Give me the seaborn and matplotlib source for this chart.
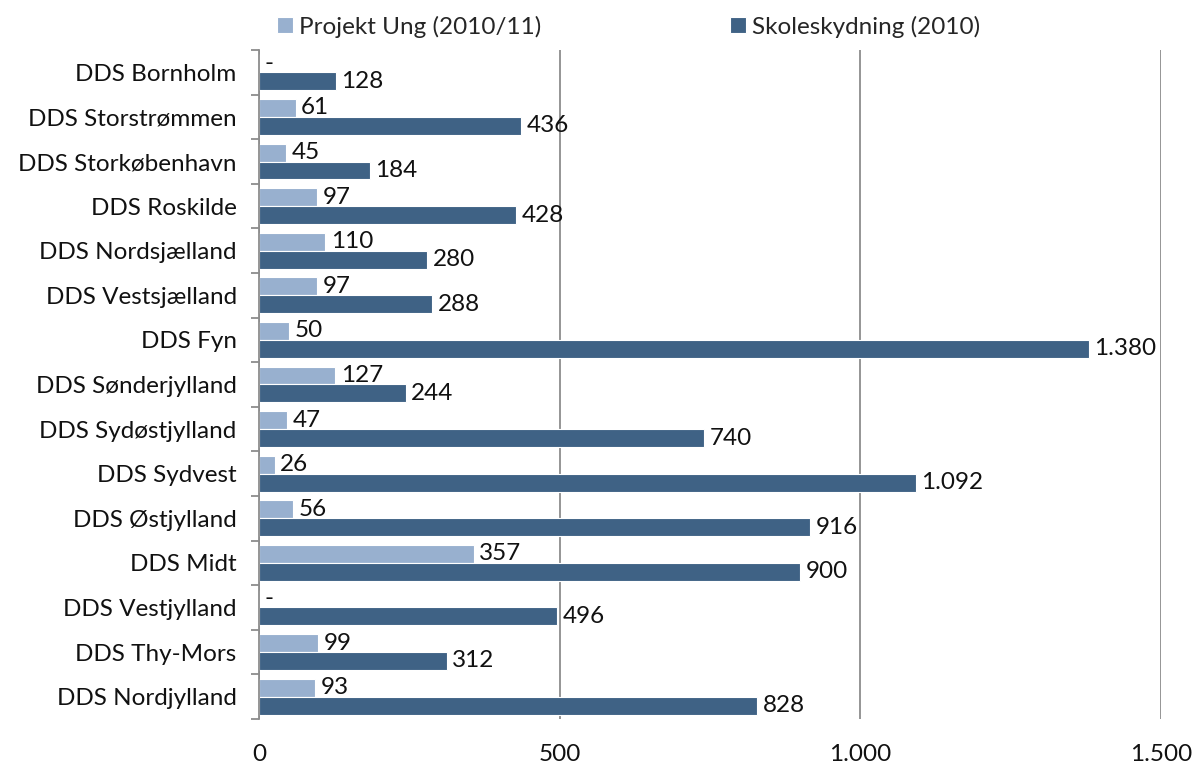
import matplotlib
matplotlib.use('Agg')
import matplotlib.pyplot as plt
import seaborn as sb
import numpy as np
import pandas as pd
from matplotlib.ticker import FixedLocator

# data
regions = ['DDS Bornholm', 'DDS Storstrømmen', 'DDS Storkøbenhavn', 'DDS Roskilde',
           'DDS Nordsjælland', 'DDS Vestsjælland', 'DDS Fyn', 'DDS Sønderjylland',
           'DDS Sydøstjylland', 'DDS Sydvest', 'DDS Østjylland', 'DDS Midt',
           'DDS Vestjylland', 'DDS Thy-Mors', 'DDS Nordjylland']
projekt_ung = [0, 61, 45, 97, 110, 97, 50, 127, 47, 26, 56, 357, 0, 99, 93]
skoleskydning = [128, 436, 184, 428, 280, 288, 1380, 244, 740, 1092, 916, 900, 496, 312, 828]
series_names = ['Projekt Ung (2010/11)', 'Skoleskydning (2010)']
x_ticks = [0, 500, 1000, 1500]

def dk(v):
    # danish thousands separator, dash for zero
    if v == 0:
        return '-'
    return f'{v:,.0f}'.replace(',', '.')

df = pd.DataFrame({
    'region': regions * 2,
    'value': projekt_ung + skoleskydning,
    'serie': [series_names[0]] * len(regions) + [series_names[1]] * len(regions),
})

sb.set_style('white')
plt.rcParams['font.family'] = ['Lato', 'DejaVu Sans']
fs = 17.5

fig = plt.figure(figsize=(11.95, 7.66), dpi=100)
ax = fig.add_axes([0.2167, 0.0614, 0.9715 - 0.2167, 0.9347 - 0.0614])

sb.barplot(data=df, y='region', x='value', hue='serie', orient='h',
           palette=['#98B0CF', '#3F6285'], width=0.8, ax=ax, legend=True,
           saturation=1, edgecolor='white', linewidth=0.8)

for cont, vals in zip(ax.containers, [projekt_ung, skoleskydning]):
    ax.bar_label(cont, labels=[dk(v) for v in vals], padding=4,
                 fontsize=fs, color='#111111')

ax.set_xlim(0, 1500)
ax.set_ylim(len(regions) - 0.5, -0.5)
ax.set_xticks(x_ticks)
ax.set_xticklabels([dk(t) if t else '0' for t in x_ticks])
ax.set_xlabel('')
ax.set_ylabel('')

ax.xaxis.grid(True, color='#8c8c8c', linewidth=1.3)
ax.set_axisbelow(True)
for s in ['top', 'right', 'bottom']:
    ax.spines[s].set_visible(False)
ax.spines['left'].set_color('#8c8c8c')
ax.spines['left'].set_linewidth(1.3)

ax.yaxis.set_minor_locator(FixedLocator(np.arange(-0.5, len(regions), 1)))
ax.tick_params(axis='y', which='minor', length=6, width=1.3, color='#8c8c8c', left=True)
ax.tick_params(axis='y', which='major', length=0, pad=16, labelsize=fs, labelcolor='#111111')
ax.tick_params(axis='x', length=0, pad=18, labelsize=fs, labelcolor='#111111')

ax.legend(loc='center', bbox_to_anchor=(0.526, 0.965), bbox_transform=fig.transFigure,
          ncol=2, frameon=False, fontsize=fs, handlelength=0.65, handleheight=0.65,
          handletextpad=0.25, columnspacing=7.8)

fig.savefig('out.png', dpi=100)
